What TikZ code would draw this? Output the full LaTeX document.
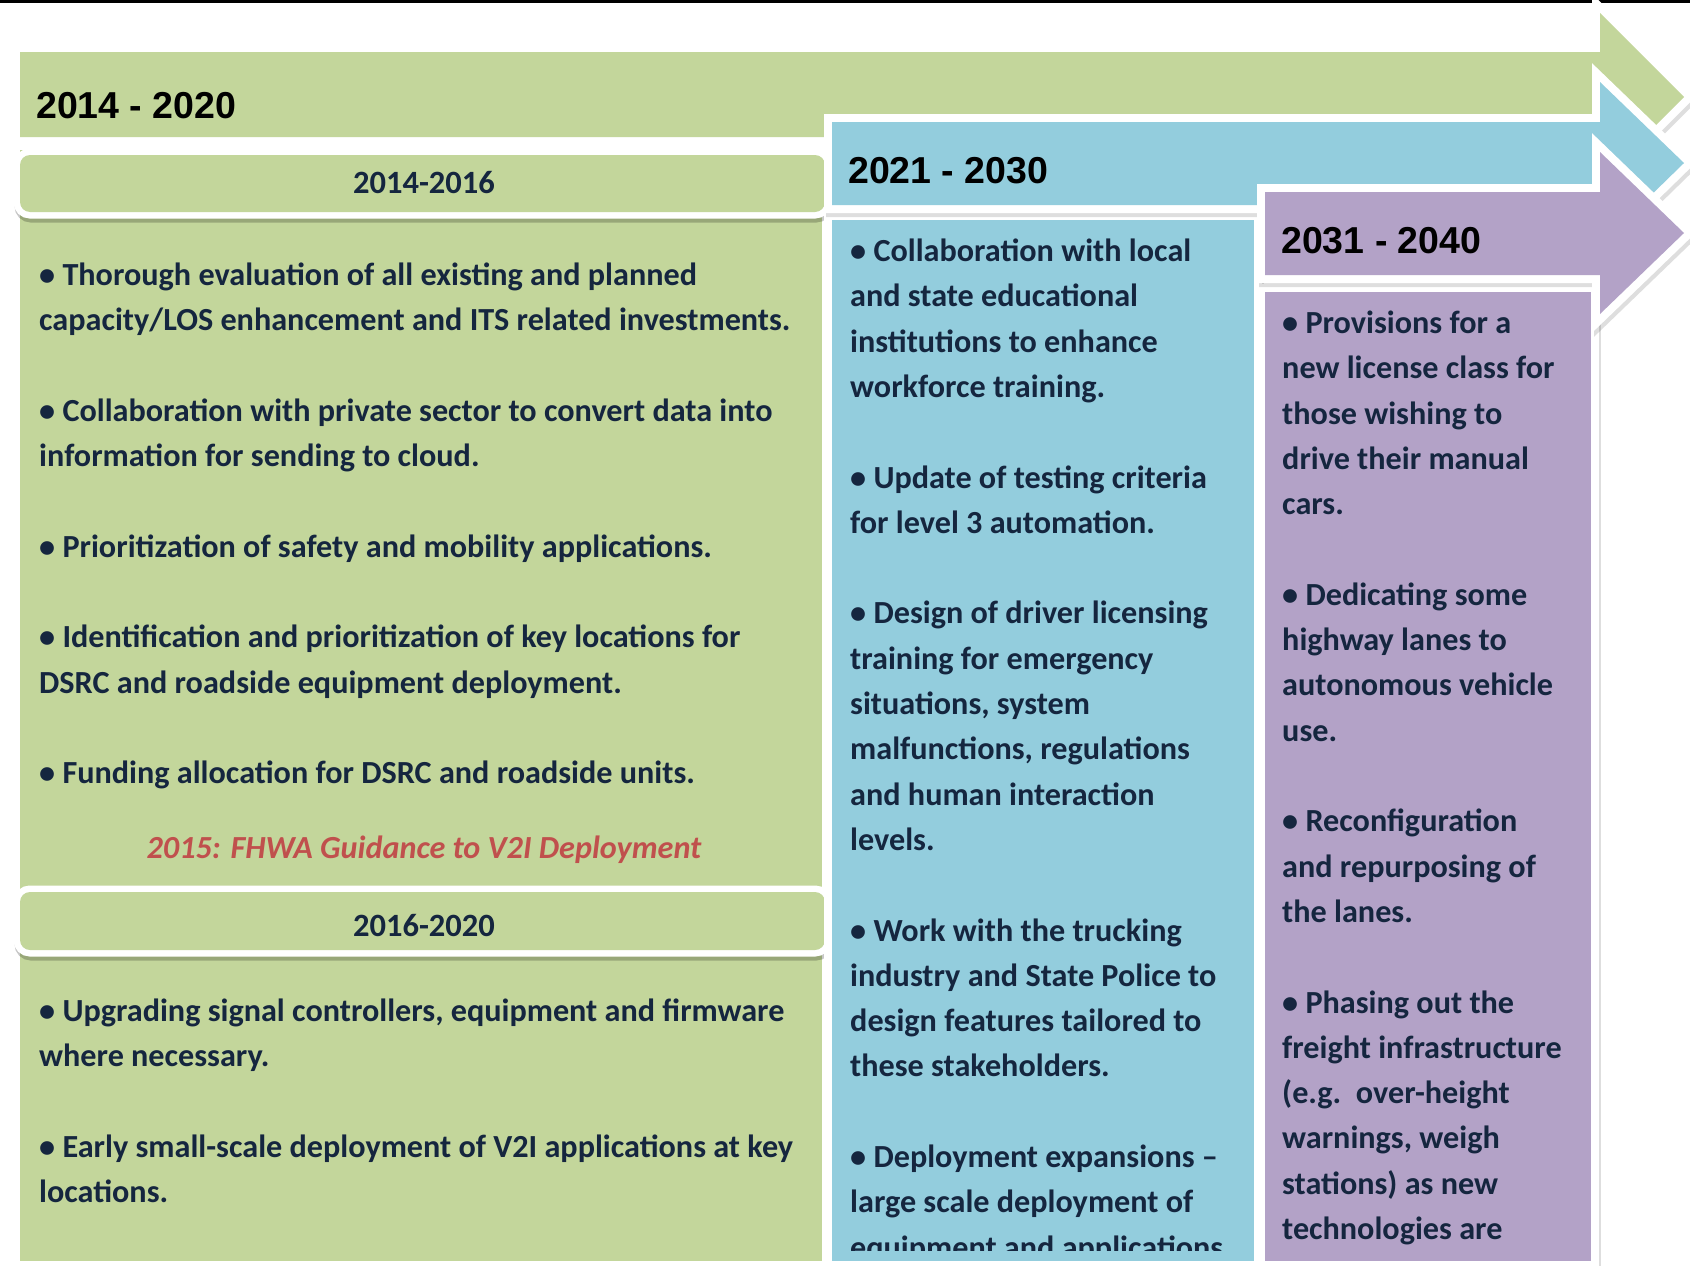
\documentclass[tikz,border=0pt]{standalone}
\usepackage{fontspec}
\setmainfont{Carlito}
\newfontfamily\hdfont{Liberation Sans}
\definecolor{gr}{HTML}{C3D69B}
\definecolor{bl}{HTML}{93CDDD}
\definecolor{pu}{HTML}{B3A2C7}
\definecolor{tx}{HTML}{15263F}
\definecolor{rd}{HTML}{C0504D}
\newlength{\bsk}
\setlength{\bsk}{45.3pt}
\newcommand{\col}[1]{\parbox[t]{820pt}{\raggedright #1}}
\tikzset{
  shad/.style={preaction={draw=black, draw opacity=0.13, line width=16pt, line join=miter, transform canvas={shift={(2pt,-4pt)}}}},
  wb/.style={preaction={draw=white, line width=16pt, line join=miter}},
  swb/.style={preaction={draw=black, draw opacity=0.22, line width=13pt, transform canvas={shift={(1pt,-4pt)}}}, preaction={draw=white, line width=13pt}},
  hd/.style={anchor=base west, inner sep=0pt, font=\hdfont\bfseries\fontsize{37.5}{40}\selectfont, text=black},
  sh/.style={anchor=base, inner sep=0pt, font=\bfseries\fontsize{32.5}{34}\selectfont, text=tx},
  body/.style={anchor=base west, inner sep=0pt, font=\bfseries\fontsize{32.2}{45.3}\selectfont, text=tx},
}
\begin{document}
\begin{tikzpicture}[x=1pt,y=-1pt]
\useasboundingbox (0,0) rectangle (1690,1266);
\fill[white] (0,0) rectangle (1690,1266);
\fill[black] (0,0) rectangle (1690,3);
% green arrow
\path[shad, wb, fill=gr] (20,52) -- (1600,52) -- (1600,13) -- (1684,97) -- (1600,181) -- (1600,137) -- (20,137) -- cycle;
% green column
\path[shad, wb, fill=gr] (20,150) rectangle (822,1261);
% sub-headers
\path[swb, fill=gr, rounded corners=10pt] (20,155) rectangle (825,212);
\path[swb, fill=gr, rounded corners=10pt] (20,892) rectangle (825,950);
% blue column and arrow
\path[shad, wb, fill=bl] (832,220) rectangle (1254,1261);
\path[shad, wb, fill=bl] (832,122) -- (1600,122) -- (1600,82) -- (1684,163) -- (1600,245) -- (1600,205) -- (832,205) -- cycle;
% purple column and arrow
\path[shad, wb, fill=pu] (1265,292) rectangle (1591,1261);
\path[shad, wb, fill=pu] (1265,192) -- (1600,192) -- (1600,152) -- (1684,233) -- (1600,314) -- (1600,275) -- (1265,275) -- cycle;
% headers
\node[hd] (h1) at (36,118) {2014 - 2020};
\node[hd] (h2) at (848,183) {2021 - 2030};
\node[hd] (h3) at (1281,253) {2031 - 2040};
\node[sh] (s1) at (424,193) {2014-2016};
\node[sh] (s2) at (424,936) {2016-2020};
\node[anchor=base, inner sep=0pt, font=\bfseries\itshape\fontsize{32.2}{34}\selectfont, text=rd] (red) at (424,858) {2015: FHWA Guidance to V2I Deployment};
% green texts
\node[body] (g1) at (39,285.5) {\col{%
• Thorough evaluation of all existing and planned\\
capacity/LOS enhancement and ITS related investments.\\[\bsk]
• Collaboration with private sector to convert data into\\
information for sending to cloud.\\[\bsk]
• Prioritization of safety and mobility applications.\\[\bsk]
• Identification and prioritization of key locations for\\
DSRC and roadside equipment deployment.\\[\bsk]
• Funding allocation for DSRC and roadside units.}};
\node[body] (g2) at (39,1021.5) {\col{%
• Upgrading signal controllers, equipment and firmware\\
where necessary.\\[\bsk]
• Early small-scale deployment of V2I applications at key\\
locations.}};
% blue texts
\begin{scope}
\clip (832,220) rectangle (1254,1250);
\node[body] (b1) at (850,261.5) {\col{%
• Collaboration with local\\
and state educational\\
institutions to enhance\\
workforce training.\\[\bsk]
• Update of testing criteria\\
for level 3 automation.\\[\bsk]
• Design of driver licensing\\
training for emergency\\
situations, system\\
malfunctions, regulations\\
and human interaction\\
levels.\\[\bsk]
• Work with the trucking\\
industry and State Police to\\
design features tailored to\\
these stakeholders.\\[\bsk]
• Deployment expansions –\\
large scale deployment of\\
equipment and applications.}};
\end{scope}
% purple texts
\node[body] (p1) at (1282,333.5) {\col{%
• Provisions for a\\
new license class for\\
those wishing to\\
drive their manual\\
cars.\\[\bsk]
• Dedicating some\\
highway lanes to\\
autonomous vehicle\\
use.\\[\bsk]
• Reconfiguration\\
and repurposing of\\
the lanes.\\[\bsk]
• Phasing out the\\
freight infrastructure\\
(e.g.\ \ over-height\\
warnings, weigh\\
stations) as new\\
technologies are}};
\end{tikzpicture}
\end{document}
